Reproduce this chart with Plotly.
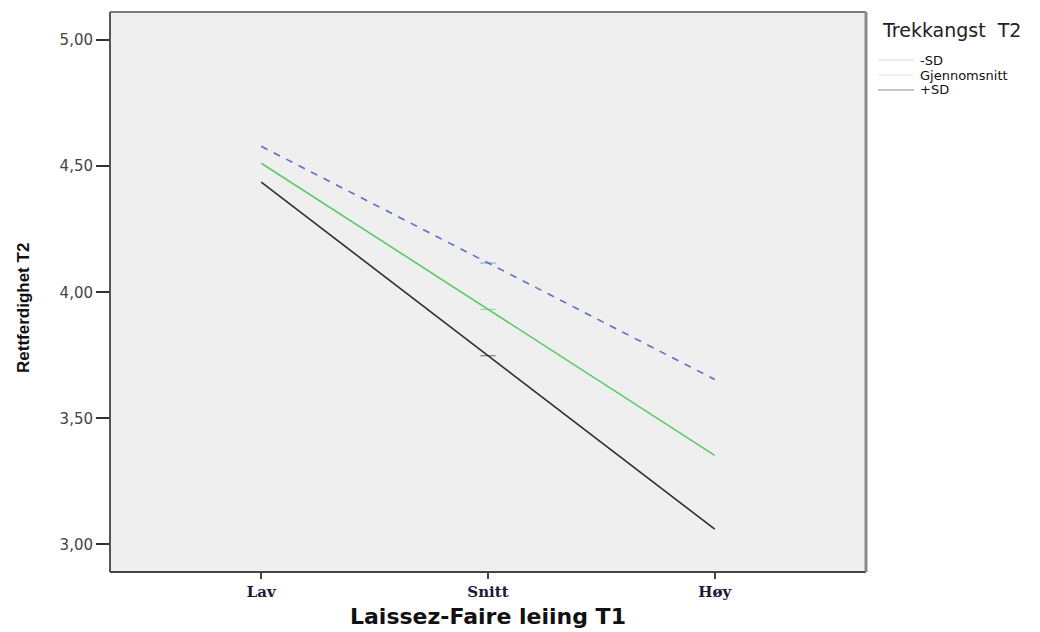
import plotly.graph_objects as go

categories = ["Lav", "Snitt", "Høy"]
series_names = ["-SD", "Gjennomsnitt", "+SD"]
minus_sd = [4.579, 4.116, 3.654]
mean_vals = [4.512, 3.932, 3.353]
plus_sd = [4.437, 3.748, 3.060]
y_ticks = [3.0, 3.5, 4.0, 4.5, 5.0]
y_tick_labels = ["3,00", "3,50", "4,00", "4,50", "5,00"]
legend_title = "Trekkangst  T2"
x_title = "Laissez-Faire leiing T1"
y_title = "Rettferdighet T2"

W, H = 1040, 632
L, R, T, B = 110, 174, 12, 60
PW, PH = W - L - R, H - T - B


def px(xp):
    return (xp - L) / PW


def py(yp):
    return (H - B - yp) / PH


xpos = list(range(len(categories)))

fig = go.Figure()

line_styles = [
    dict(color="#5a6ecb", width=1.6, dash="7px,7px"),
    dict(color="#5cca68", width=1.6),
    dict(color="#2e2e2e", width=1.6),
]
legend_colors = ["#d8d8ee", "#d8eed8", "#8c8c8c"]
values = [minus_sd, mean_vals, plus_sd]

for name, vals, ls in zip(series_names, values, line_styles):
    fig.add_trace(go.Scatter(
        x=xpos, y=vals, mode="lines+markers", name=name, showlegend=False,
        line=ls,
        marker=dict(symbol="line-ew-open", size=[0, 11, 0],
                    line=dict(color="#8a8a8a", width=1)),
        hoverinfo="skip",
    ))

fig.update_layout(
    width=W, height=H,
    paper_bgcolor="white", plot_bgcolor="#efefef",
    margin=dict(l=L, r=R, t=T, b=B),
    font=dict(family="DejaVu Sans, sans-serif", color="#222222"),
    showlegend=False,
)

fig.update_xaxes(
    range=[-0.667, 2.667], tickmode="array", tickvals=xpos,
    ticktext=["<b>%s</b>" % c for c in categories],
    showgrid=False, zeroline=False, showline=False,
    ticks="outside", ticklen=6, tickcolor="#444444", tickwidth=1.5,
    tickfont=dict(family="DejaVu Serif, serif", size=15, color="#1a1a3a"),
)

fig.update_yaxes(
    range=[2.890, 5.112], tickmode="array", tickvals=y_ticks, ticktext=y_tick_labels,
    showgrid=False, zeroline=False, showline=False,
    ticks="outside", ticklen=13, tickcolor="#333333", tickwidth=1.5,
    tickfont=dict(family="DejaVu Sans, sans-serif", size=15, color="#444444"),
)

# axis titles
fig.add_annotation(text="<b>%s</b>" % x_title, xref="paper", yref="paper",
                   x=0.5, y=py(616), xanchor="center", yanchor="middle", showarrow=False,
                   font=dict(family="DejaVu Sans, sans-serif", size=22, color="#111111"))
fig.add_annotation(text="<b>%s</b>" % y_title, xref="paper", yref="paper",
                   x=px(23), y=py(308), xanchor="center", yanchor="middle", showarrow=False,
                   textangle=-90,
                   font=dict(family="Liberation Sans, Arial, sans-serif", size=17, color="#111111"))

# plot frame
fig.add_shape(type="line", xref="paper", yref="paper", x0=0, y0=1, x1=1, y1=1,
              line=dict(color="#7a7a7a", width=2), layer="above")
fig.add_shape(type="line", xref="paper", yref="paper", x0=0, y0=0, x1=0, y1=1,
              line=dict(color="#555555", width=2), layer="above")
fig.add_shape(type="line", xref="paper", yref="paper", x0=0, y0=0, x1=1, y1=0,
              line=dict(color="#444444", width=2), layer="above")
fig.add_shape(type="line", xref="paper", yref="paper", x0=1, y0=0, x1=1, y1=1,
              line=dict(color="#8a8a8a", width=3), layer="above")

# legend (drawn manually)
fig.add_annotation(text=legend_title, xref="paper", yref="paper",
                   x=px(880), y=py(30), xanchor="left", yanchor="middle", showarrow=False,
                   font=dict(family="DejaVu Sans, sans-serif", size=19, color="#222222"))
for i, (name, col) in enumerate(zip(series_names, legend_colors)):
    yy = py(60 + 15 * i)
    fig.add_shape(type="line", xref="paper", yref="paper",
                  x0=px(878), x1=px(914), y0=yy, y1=yy,
                  line=dict(color=col, width=1))
    fig.add_annotation(text=name, xref="paper", yref="paper",
                       x=px(918), y=yy, xanchor="left", yanchor="middle", showarrow=False,
                       font=dict(family="DejaVu Sans, sans-serif", size=13, color="#111111"))

fig.write_html("out.html",
               config={"displayModeBar": False},
               post_script="document.documentElement.style.margin='0';"
                           "document.body.style.margin='0';document.body.style.padding='0';")
